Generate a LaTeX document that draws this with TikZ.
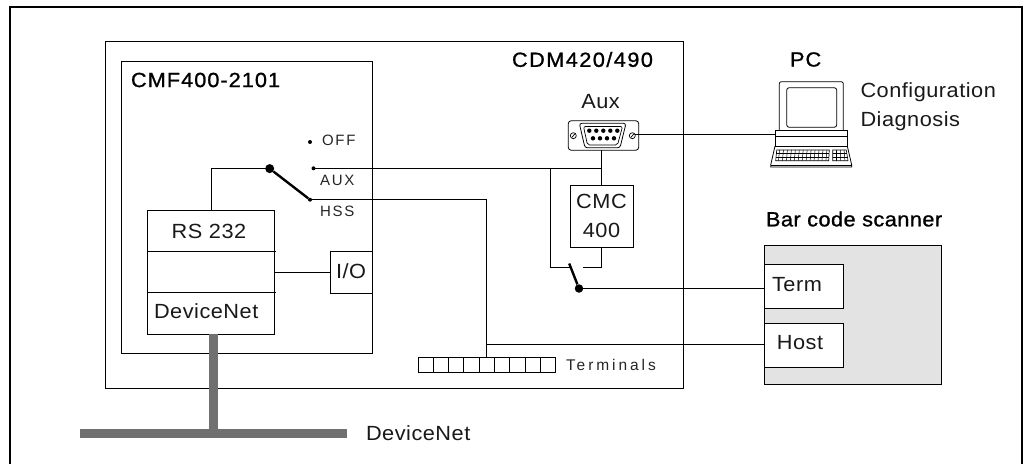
\documentclass[tikz,border=0pt]{standalone}
\usepackage{fontspec}
\setmainfont{Liberation Sans}
\newfontfamily\lblfont[LetterSpace=2.5,FakeStretch=1.06]{Liberation Sans}
\newfontfamily\widefont[LetterSpace=12]{Liberation Sans}
\newfontfamily\vwidefont[LetterSpace=19]{Liberation Sans}
\newfontfamily\headfont[LetterSpace=5,FakeBold=1,FakeStretch=1.06]{Liberation Sans}
\newfontfamily\headwfont[LetterSpace=7,FakeBold=1,FakeStretch=1.06]{Liberation Sans}
\newfontfamily\headnfont[LetterSpace=2.2,FakeBold=1,FakeStretch=1.06]{Liberation Sans}
\usetikzlibrary{calc}
\tikzset{
  wire/.style={line width=1pt,line cap=rect},
  boxed/.style={draw,line width=1pt,anchor=north west,inner sep=0pt,outer sep=0pt},
  lbl/.style={inner sep=0pt,outer sep=0pt,font=\lblfont\fontsize{20.5}{22}\selectfont,text=black!90},
  head/.style={inner sep=0pt,outer sep=0pt,font=\headfont\fontsize{20.5}{22}\selectfont},
  headw/.style={inner sep=0pt,outer sep=0pt,font=\headwfont\fontsize{20.5}{22}\selectfont},
  headn/.style={inner sep=0pt,outer sep=0pt,font=\headnfont\fontsize{20.5}{22}\selectfont},
  tinylbl/.style={inner sep=0pt,outer sep=0pt,font=\widefont\fontsize{15}{17}\selectfont,text=black!85},
  termlbl/.style={inner sep=0pt,outer sep=0pt,font=\vwidefont\fontsize{15.5}{17}\selectfont,text=black!85},
  dot/.style={circle,fill=black,inner sep=0pt,minimum size=#1},
  bus/.style={line width=9pt,color=black!56},
  lever/.style={line width=2.4pt}
}
\begin{document}
\begin{tikzpicture}[x=1pt,y=-1pt]
\useasboundingbox (0,0) rectangle (1029,464);
\fill[white] (0,0) rectangle (1029,464);
\draw[line width=2pt] (10,464) -- (10,6.7) -- (1021.5,6.7) -- (1021.5,464);
% enclosures
\node[boxed,minimum width=577.5pt,minimum height=347pt] (cdm) at (105.5,41) {};
\node[boxed,minimum width=250.5pt,minimum height=292pt] (cmf) at (121.5,61) {};
\node[boxed,minimum width=127pt,minimum height=124pt] (rs) at (147.5,210) {};
\draw[wire] (147.5,251.5) -- (275,251.5) (147.5,292) -- (275.5,292);
\node[boxed,minimum width=42pt,minimum height=41.5pt] (io) at (330,251.5) {};
\draw[wire] (rs.east |- io.west) -- (io.west);
\node[boxed,minimum width=63pt,minimum height=62.7pt] (cmc) at (570.3,185) {};
\node[boxed,fill=black!11,minimum width=177.4pt,minimum height=139pt] (scan) at (764.3,245.3) {};
\node[boxed,fill=white,minimum width=79pt,minimum height=44pt] (term) at (764.3,264.3) {};
\node[boxed,fill=white,minimum width=79pt,minimum height=44pt] (host) at (764.3,323.3) {};
% DeviceNet bus
\coordinate (busL) at (80,433.5);
\coordinate (busR) at (347,433.5);
\coordinate (busT) at (213.5,433.5);
\draw[bus] (busL) -- (busR);
\draw[bus] (rs.south -| busT) -- (busT);
% switch 1
\node[dot=9pt] (piv) at (269.7,168.6) {};
\node[dot=4pt] (off) at (310,142) {};
\node[dot=4pt] (aux) at (313.5,168.3) {};
\node[dot=4pt] (hss) at (310,199.7) {};
\draw[lever] (piv) -- (hss);
\coordinate (a1) at (211,168.6);
\draw[wire] (piv) -- (a1) -- (a1 |- rs.north);
% D-sub connector
\coordinate (con) at (603.5,135.5);
\node[boxed,anchor=center,rounded corners=3pt,minimum width=70.4pt,minimum height=29.6pt,line width=0.8pt] (dsub) at (con) {};
\draw[line width=0.8pt,rounded corners=2.5pt] (579.3,123.3) -- (626,123.3) -- (620,147.8) -- (585,147.8) -- cycle;
\draw[line width=0.7pt,rounded corners=2pt] (583.5,126.5) -- (622.5,126.5) -- (617.5,145) -- (587.5,145) -- cycle;
\foreach \x in {589.3,596.3,603.3,610.3,617.3} \fill (\x,130.7) circle (2.2pt);
\foreach \x in {593,600,607,614} \fill (\x,138.3) circle (2.2pt);
\foreach \x in {573.3,632.3} {\draw[line width=0.7pt] (\x,135.7) circle (3pt); \draw[line width=0.7pt] (\x-1.5,137.5) -- (\x+1.5,134);}
% PC
\coordinate (pc) at (775,134.3);
\draw[line width=0.8pt,rounded corners=2pt] (779.3,130.7) -- (779.3,81.7) -- (843.3,81.7) -- (843.3,130.7);
\draw[line width=0.8pt,rounded corners=2.5pt] (786.7,87.7) rectangle (836.7,127.3);
\node[boxed,minimum width=72.3pt,minimum height=15.3pt,line width=0.8pt] (pcbase) at (775,130.7) {};
\draw[line width=1.1pt] (775,136.7) -- (847.3,136.7);
\draw[line width=0.8pt] (775,146) -- (770.7,165) -- (770.7,167) -- (851.7,167) -- (851.7,165) -- (847.3,146);
\draw[line width=0.8pt] (770.7,165) -- (851.7,165);
\draw[line width=0.6pt] (776.7,150) -- (829.3,150) -- (828.7,160.7) -- (775.7,160.7) -- cycle;
\draw[line width=0.6pt] (832.7,150) -- (846.3,150) -- (848,160.7) -- (832.7,160.7) -- cycle;
\draw[line width=0.5pt] (776.4,153.5) -- (829.2,153.5) (776,157) -- (829,157);
\draw[line width=0.5pt] (832.7,153.5) -- (847,153.5) (832.7,157) -- (847.5,157);
\foreach \x in {0,...,12} \draw[line width=0.5pt] (779.5+\x*3.95,150) -- (778.5+\x*3.95,160.7);
\foreach \x in {0,1,2} \draw[line width=0.5pt] (836.5+\x*3.8,150) -- (836.5+\x*4.2,160.7);
% wiring
\coordinate (j1) at (601.7,168.3);
\coordinate (j2) at (550.7,168.3);
\draw[wire] (aux) -- (j1);
\draw[wire] (dsub.south -| j1) -- (j1 |- cmc.north);
\draw[wire] (635.3,134.3) -- (pc);
% switch 2
\coordinate (c1) at (570,267.7);
\coordinate (c2) at (583,267.7);
\coordinate (c3) at (601.7,267.7);
\node[dot=8.5pt] (piv2) at (579,288.5) {};
\draw[wire] (j2) -- (j2 |- c1) -- (c1);
\draw[wire] (cmc.south -| c3) -- (c3) -- (c2);
\draw[lever] (569.2,263.5) -- (piv2);
\draw[wire] (piv2) -- (piv2 -| term.west) ;
% HSS wire and terminals
\coordinate (h1) at (486.7,199.7);
\coordinate (h2) at (486.7,344.5);
\draw[wire] (hss) -- (h1) -- (h2) -- (h2 -| host.west);
\foreach \a/\b [count=\i] in {418/433,433.3/448.3,448.3/463.3,463.3/479.3,479.3/494.3,494.3/509.7,509.7/525,525/540.3,540.3/555.7}
  \node[boxed,minimum width=\b pt-\a pt,minimum height=15pt] (t\i) at (\a,357.7) {};
\draw[wire] (h2) -- (h2 |- t5.north);
% labels
\node[headw,anchor=west] (lcdm) at (512,59.5) {CDM420/490};
\node[head,anchor=west] (lcmf) at (131,80) {CMF400-2101};
\node[head,anchor=west] (lpc) at (790,59.5) {PC};
\node[headn,anchor=west] (lbar) at (766,219) {Bar code scanner};
\node[lbl] (laux) at (600.5,102) {Aux};
\node[lbl,anchor=west] (lcfg) at (860.5,92.5) {Configuration};
\node[lbl,anchor=west] (ldia) at (860.5,121) {Diagnosis};
\node[lbl] (lrs) at (209,231) {RS 232};
\node[lbl,anchor=west] (ldn) at (154,311.5) {DeviceNet};
\node[lbl] (lio) at (351,271.5) {I/O};
\node[lbl] (lcmc) at (601.5,201.5) {CMC};
\node[lbl] (l400) at (601.5,230.5) {400};
\node[lbl] (lterm) at (797,284.5) {Term};
\node[lbl] (lhost) at (800,342.5) {Host};
\node[lbl,anchor=west] (lbus) at (366,433) {DeviceNet};
\node[tinylbl,anchor=west] (loff) at (322,140) {OFF};
\node[tinylbl,anchor=west] (lax) at (320,180.5) {AUX};
\node[tinylbl,anchor=west] (lhs) at (320,211.5) {HSS};
\node[termlbl,anchor=west] (ltm) at (566,364.5) {Terminals};
\end{tikzpicture}
\end{document}
